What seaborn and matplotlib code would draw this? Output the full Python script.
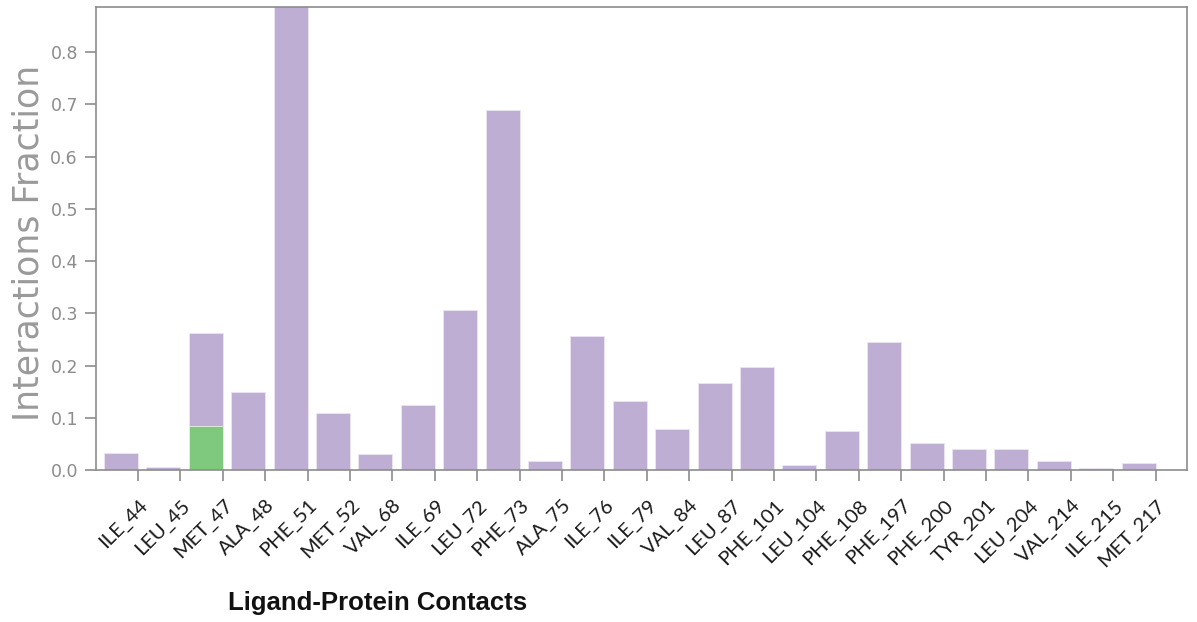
import matplotlib
matplotlib.use("Agg")
import matplotlib.pyplot as plt
import seaborn as sns
import pandas as pd
import numpy as np

residues = ["ILE_44", "LEU_45", "MET_47", "ALA_48", "PHE_51", "MET_52", "VAL_68",
            "ILE_69", "LEU_72", "PHE_73", "ALA_75", "ILE_76", "ILE_79", "VAL_84",
            "LEU_87", "PHE_101", "LEU_104", "PHE_108", "PHE_197", "PHE_200",
            "TYR_201", "LEU_204", "VAL_214", "ILE_215", "MET_217"]
hbonds = [0.0, 0.0, 0.085, 0.0, 0.0, 0.0, 0.0,
          0.0, 0.0, 0.0, 0.0, 0.0, 0.0, 0.0,
          0.0, 0.0, 0.0, 0.0, 0.0, 0.0,
          0.0, 0.0, 0.0, 0.0, 0.0]
hydrophobic = [0.032, 0.005, 0.177, 0.150, 0.930, 0.110, 0.031,
               0.124, 0.306, 0.689, 0.017, 0.256, 0.132, 0.078,
               0.167, 0.197, 0.010, 0.074, 0.245, 0.052,
               0.041, 0.041, 0.017, 0.003, 0.013]
yticks = [0.0, 0.1, 0.2, 0.3, 0.4, 0.5, 0.6, 0.7, 0.8]

sns.set_style("white")
plt.rcParams["font.family"] = ["DejaVu Sans"]

df = pd.DataFrame({"residue": residues, "hbond": hbonds, "hydro": hydrophobic})
df["total"] = df["hbond"] + df["hydro"]

fig = plt.figure(figsize=(11.97, 6.22), dpi=100)
ax = fig.add_axes([96/1197, 1-470/622, (1187-96)/1197, (470-7.3)/622])

purple = "#beaed4"
green = "#7fc97f"
sns.barplot(data=df, x="residue", y="total", color=purple, saturation=1,
            width=0.8, edgecolor="#ece6f3", linewidth=0.6, ax=ax)
sns.barplot(data=df, x="residue", y="hbond", color=green, saturation=1,
            width=0.8, edgecolor="#e4f2e4", linewidth=0.6, ax=ax)

n = len(residues)
ax.set_xlim(-0.59, n - 1 + 1.14)
ax.set_ylim(0, 0.886)
ax.set_yticks(yticks)
ax.set_yticklabels([f"{v:.1f}" for v in yticks], color="#8c8c8c", fontsize=12.5)

# tick marks at bar right edges, labels slightly offset to the right
ax.set_xticks([i + 0.4 for i in range(n)])
ax.set_xticklabels([""] * n)
ax.set_xticks([i + 0.70 for i in range(n)], minor=True)
ax.set_xticklabels(residues, minor=True, rotation=45, ha="right", va="top",
                   fontsize=14.5, color="#1a1a1a", family=["Lato", "DejaVu Sans"])

ax.tick_params(axis="both", which="major", direction="out", length=8, width=1.2,
               color="#8c8c8c", bottom=True, left=True)
ax.tick_params(axis="x", which="minor", length=0, pad=19, bottom=True)
ax.tick_params(axis="y", pad=5)

for s in ax.spines.values():
    s.set_visible(True)
    s.set_color("#8c8c8c")
    s.set_linewidth(1.2)

ax.set_xlabel("")
ax.set_ylabel("Interactions Fraction", fontsize=25, color="#9a9a9a")
ax.yaxis.set_label_coords(-0.046, 0.49)

fig.text(378/1197, 1 - 603/622, "Ligand-Protein Contacts", ha="center", va="center",
         fontsize=18.5, fontweight="bold", color="#111111",
         family=["Liberation Sans", "DejaVu Sans"])

fig.savefig("out.png", dpi=100)
